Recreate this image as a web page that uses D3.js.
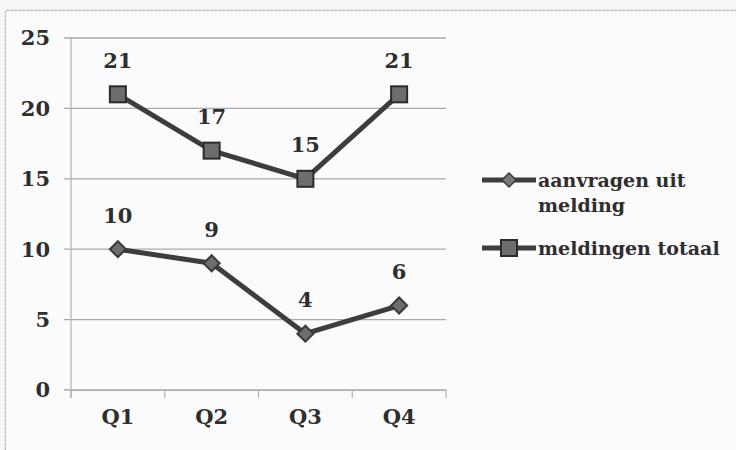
<!DOCTYPE html>
<html><head><meta charset="utf-8">
<script src="https://cdn.jsdelivr.net/npm/d3@7"></script>
<style>body{margin:0;background:#f7f8f8;}svg{display:block;}</style>
</head><body><svg id="c" width="736" height="450"></svg>
<script>
const categories = ["Q1","Q2","Q3","Q4"];
const aanvragen = [10, 9, 4, 6];
const meldingen = [21, 17, 15, 21];
const yTicks = [0, 5, 10, 15, 20, 25];
const seriesNames = ["aanvragen uit melding", "meldingen totaal"];

const font = "'DejaVu Serif', 'Liberation Serif', serif";
const ink = "#2e2e2e";
const svg = d3.select("#c");
svg.append("rect").attr("width",736).attr("height",450).attr("fill","#f7f8f8");
// outer frame
svg.append("path").attr("d","M5.5,450 V10.5 H736").attr("fill","none").attr("stroke","#b8b8b8").attr("stroke-width",1.5).attr("stroke-dasharray","3,1");
svg.append("rect").attr("x",6).attr("y",11).attr("width",730).attr("height",439).attr("fill","#fbfbfb");

const x = d3.scaleBand().domain(categories).range([71, 446]);
const y = d3.scaleLinear().domain([0, 25]).range([390, 38]);

const g = svg.append("g");
// gridlines
g.selectAll(".grid").data(yTicks).join("line")
  .attr("x1", 64).attr("x2", 446)
  .attr("y1", d => y(d)).attr("y2", d => y(d))
  .attr("stroke", "#a9a9b0").attr("stroke-width", 1.3);
// y axis line
g.append("line").attr("x1",71).attr("x2",71).attr("y1",y(25)).attr("y2",y(0)+8).attr("stroke","#b0b0b8").attr("stroke-width",1.2);
// y labels
g.selectAll(".yl").data(yTicks).join("text")
  .attr("x", 50).attr("y", d => y(d)).attr("dy","0.35em")
  .attr("text-anchor","end").attr("font-family",font).attr("font-weight","bold")
  .attr("font-size",21).attr("fill",ink).text(d => d);
// x axis
const xAxis = d3.axisBottom(x).tickSize(0).tickFormat("");
const xa = svg.append("g").attr("transform",`translate(0,${y(0)})`).call(xAxis);
xa.select(".domain").attr("stroke","#b0b0b8").attr("stroke-width",1.2);
// tick marks at band boundaries
const bounds = categories.map(c => x(c)).concat([x.range()[1]]);
g.selectAll(".xt").data(bounds).join("line")
  .attr("x1", d=>d).attr("x2", d=>d).attr("y1", y(0)).attr("y2", y(0)+8)
  .attr("stroke","#b0b0b8").attr("stroke-width",1.2);
g.selectAll(".xl").data(categories).join("text")
  .attr("x", d => x(d) + x.bandwidth()/2).attr("y", 424)
  .attr("text-anchor","middle").attr("font-family",font).attr("font-weight","bold")
  .attr("font-size",21).attr("fill",ink).text(d => d);

const cx = c => x(c) + x.bandwidth()/2;
const line = d3.line().x((d,i) => cx(categories[i])).y(d => y(d));
const lineColor = "#3d3d3f";

function drawSeries(vals, shape) {
  g.append("path").datum(vals).attr("d", line).attr("fill","none")
    .attr("stroke", lineColor).attr("stroke-width", 5).attr("stroke-linejoin","round");
  vals.forEach((v,i) => {
    const px = cx(categories[i]), py = y(v);
    if (shape === "square") {
      g.append("rect").attr("x",px-8).attr("y",py-8).attr("width",16).attr("height",16)
        .attr("fill","#6d6d70").attr("stroke","#2b2b2d").attr("stroke-width",2);
    } else {
      g.append("path").attr("d",`M${px},${py-8}L${px+8},${py}L${px},${py+8}L${px-8},${py}Z`)
        .attr("fill","#6d6d70").attr("stroke","#3a3a3c").attr("stroke-width",2);
    }
    g.append("text").attr("x",px).attr("y",py-34).attr("dy","0.35em")
      .attr("text-anchor","middle").attr("font-family",font).attr("font-weight","bold")
      .attr("font-size",21).attr("fill",ink).text(v);
  });
}
drawSeries(aanvragen, "diamond");
drawSeries(meldingen, "square");

// legend
const lg = svg.append("g");
const legendItems = [
  {lines:["aanvragen uit","melding"], y:180, shape:"diamond"},
  {lines:["meldingen totaal"], y:248, shape:"square"}
];
legendItems.forEach((it,k) => {
  lg.append("line").attr("x1",482).attr("x2",536).attr("y1",it.y).attr("y2",it.y)
    .attr("stroke",lineColor).attr("stroke-width",5);
  const px = 509, py = it.y;
  if (it.shape === "square") {
    lg.append("rect").attr("x",px-8).attr("y",py-8).attr("width",16).attr("height",16)
      .attr("fill","#6d6d70").attr("stroke","#2b2b2d").attr("stroke-width",2);
  } else {
    lg.append("path").attr("d",`M${px},${py-7}L${px+7},${py}L${px},${py+7}L${px-7},${py}Z`)
      .attr("fill","#7a7a7d").attr("stroke","#3a3a3c").attr("stroke-width",1.5);
  }
  it.lines.forEach((t,j) => {
    lg.append("text").attr("x",538).attr("y",it.y + j*25).attr("dy","0.35em")
      .attr("font-family",font).attr("font-weight","bold").attr("font-size",19)
      .attr("fill",ink).text(t);
  });
});
</script></body></html>
